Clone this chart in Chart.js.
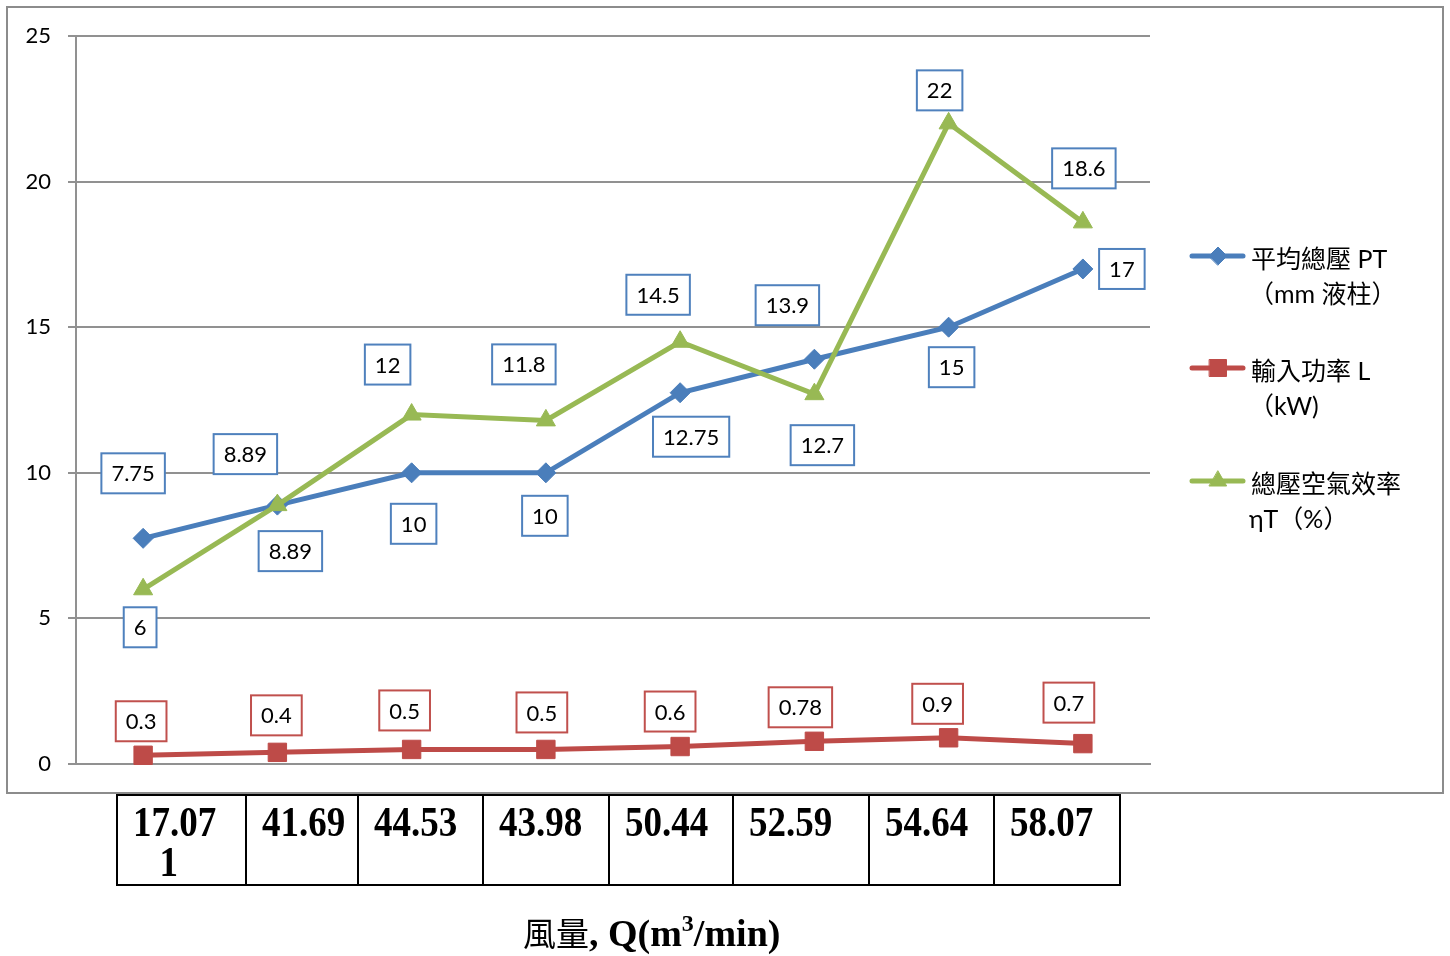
<!DOCTYPE html>
<html>
<head>
<meta charset="utf-8">
<script src="https://cdn.jsdelivr.net/npm/chart.js@4.4.1/dist/chart.umd.min.js"></script>
<style>
  html, body { margin: 0; padding: 0; background: #fff; }
</style>
</head>
<body>
<canvas id="chart" width="1450" height="956"></canvas>
<script>
// data
const categories = ['17.071', '41.69', '44.53', '43.98', '50.44', '52.59', '54.64', '58.07'];
const pressure = [7.75, 8.89, 10, 10, 12.75, 13.9, 15, 17];
const power = [0.3, 0.4, 0.5, 0.5, 0.6, 0.78, 0.9, 0.7];
const efficiency = [6, 8.89, 12, 11.8, 14.5, 12.7, 22, 18.6];
const yTicks = [0, 5, 10, 15, 20, 25];
const seriesNames = [
    ['平均總壓 PT', '（mm 液柱）'],
    ['輸入功率 L', '（kW)'],
    ['總壓空氣效率', 'ηT（%）']
];
const axisTitle = ['風量', ', Q(m', '3', '/min)'];

const BLUE = '#4A7EBB', RED = '#BE4B48', GREEN = '#98B954';
const GRID = '#919191';

// where each value box sits relative to its point
const labelOffsets = [
    [[-10, -65], [13, 46], [2, 51], [-1, 43], [11, 44], [-27, -54], [3, 40], [39, 0]],
    [[-2, -34], [-1, -37], [-7, -39], [-4, -37], [-10, -35], [-14, -34], [-11, -34], [-14, -41]],
    [[-3, 38], [-32, -51], [-24, -50], [-22, -56], [-22, -47], [8, 51], [-9, -33], [1, -54]]
];
const labelBorders = ['#4F81BD', '#C0504D', '#4F81BD'];

const frame = {
    id: 'frame',
    beforeDraw(chart) {
        const ctx = chart.ctx;
        ctx.save();
        ctx.fillStyle = '#fff';
        ctx.fillRect(0, 0, chart.width, chart.height);
        ctx.strokeStyle = '#8c8c8c';
        ctx.lineWidth = 2;
        ctx.strokeRect(7, 7, 1436, 786);
        ctx.restore();
    }
};

const valueBoxes = {
    id: 'valueBoxes',
    afterDatasetsDraw(chart) {
        const ctx = chart.ctx;
        ctx.save();
        ctx.font = '22px Lato';
        ctx.textAlign = 'center';
        ctx.textBaseline = 'middle';
        chart.data.datasets.forEach((ds, i) => {
            const meta = chart.getDatasetMeta(i);
            meta.data.forEach((pt, j) => {
                const txt = String(ds.data[j]);
                const off = labelOffsets[i][j];
                const cx = pt.x + off[0], cy = pt.y + off[1];
                const w = ctx.measureText(txt).width + 20, h = 40;
                ctx.fillStyle = '#fff';
                ctx.fillRect(cx - w / 2, cy - h / 2, w, h);
                ctx.strokeStyle = labelBorders[i];
                ctx.lineWidth = 2;
                ctx.strokeRect(cx - w / 2, cy - h / 2, w, h);
                ctx.fillStyle = '#000';
                ctx.fillText(txt, cx, cy + 1);
            });
        });
        ctx.restore();
    }
};

const sideLegend = {
    id: 'sideLegend',
    afterDraw(chart) {
        const ctx = chart.ctx;
        const lineY = [256, 368, 481];
        const styles = ['rectRot', 'rect', 'triangle'];
        const radii = [9, 12, 10];
        ctx.save();
        chart.data.datasets.forEach((ds, i) => {
            ctx.strokeStyle = ds.borderColor;
            ctx.lineWidth = 5;
            ctx.lineCap = 'round';
            ctx.beginPath();
            ctx.moveTo(1192, lineY[i]);
            ctx.lineTo(1243, lineY[i]);
            ctx.stroke();
            ctx.fillStyle = ds.borderColor;
            ctx.lineWidth = 1;
            Chart.helpers.drawPoint(ctx, { pointStyle: styles[i], radius: radii[i], borderWidth: 1 }, 1218, lineY[i]);
            ctx.fillStyle = '#000';
            ctx.font = '25px Lato, "Noto Sans CJK TC"';
            ctx.textAlign = 'left';
            ctx.textBaseline = 'middle';
            ctx.fillText(seriesNames[i][0], 1251, lineY[i] + 4);
            ctx.fillText(seriesNames[i][1], 1249, lineY[i] + 39);
        });
        ctx.restore();
    }
};

const valueTable = {
    id: 'valueTable',
    afterDraw(chart) {
        const ctx = chart.ctx;
        const widths = [129, 112, 125, 126, 124, 136, 125, 126];
        const top = 795, bottom = 885;
        ctx.save();
        ctx.strokeStyle = '#000';
        ctx.lineWidth = 2;
        let x = 117;
        ctx.strokeRect(x, top, widths.reduce((a, b) => a + b, 0), bottom - top);
        ctx.font = 'bold 37px "Liberation Serif"';
        ctx.fillStyle = '#000';
        ctx.textBaseline = 'alphabetic';
        categories.forEach((c, i) => {
            if (i > 0) {
                ctx.beginPath();
                ctx.moveTo(x, top);
                ctx.lineTo(x, bottom);
                ctx.stroke();
            }
            // wrap the text when it does not fit the cell
            const lines = [];
            let cur = '';
            for (const ch of c) {
                if (ctx.measureText(cur + ch).width > 96 && cur) { lines.push(cur); cur = ch; }
                else cur += ch;
            }
            lines.push(cur);
            const firstW = ctx.measureText(lines[0]).width;
            lines.forEach((ln, k) => {
                const lw = ctx.measureText(ln).width;
                const lx = k === 0 ? x + 16 : x + 16 + (firstW - lw) / 2 - 6;
                const by = 836 + k * 40;
                // the reference glyphs are a little taller than wide
                ctx.save();
                ctx.translate(lx, by);
                ctx.scale(1, 1.15);
                ctx.fillText(ln, 0, 0);
                ctx.restore();
            });
            x += widths[i];
        });

        // axis title
        const parts = [
            { t: axisTitle[0], f: '33px "Noto Sans CJK TC"', dy: 0 },
            { t: axisTitle[1], f: 'bold 38px "Liberation Serif"', dy: 0 },
            { t: axisTitle[2], f: 'bold 24px "Liberation Serif"', dy: -15 },
            { t: axisTitle[3], f: 'bold 38px "Liberation Serif"', dy: 0 }
        ];
        let tx = 523;
        parts.forEach(p => {
            ctx.font = p.f;
            ctx.fillText(p.t, tx, 946 + p.dy);
            tx += ctx.measureText(p.t).width;
        });
        ctx.restore();
    }
};

new Chart(document.getElementById('chart'), {
    type: 'line',
    data: {
        labels: categories,
        datasets: [
            {
                label: seriesNames[0].join(''),
                data: pressure,
                borderColor: BLUE,
                backgroundColor: BLUE,
                borderWidth: 5,
                pointStyle: 'rectRot',
                pointRadius: 10,
                pointBorderWidth: 1,
                order: 1,
                clip: false
            },
            {
                label: seriesNames[1].join(''),
                data: power,
                borderColor: RED,
                backgroundColor: RED,
                borderWidth: 5,
                pointStyle: 'rect',
                pointRadius: 13,
                pointBorderWidth: 1,
                order: 2,
                clip: false
            },
            {
                label: seriesNames[2].join(''),
                data: efficiency,
                borderColor: GREEN,
                backgroundColor: GREEN,
                borderWidth: 5,
                pointStyle: 'triangle',
                pointRadius: 11,
                pointBorderWidth: 1,
                order: 0,
                clip: false
            }
        ]
    },
    options: {
        responsive: false,
        animation: false,
        devicePixelRatio: 1,
        layout: { padding: { left: 0, top: 36, right: 300, bottom: 192 } },
        plugins: {
            legend: { display: false },
            tooltip: { enabled: false }
        },
        scales: {
            x: {
                offset: true,
                grid: { display: false },
                border: { display: true, color: GRID, width: 2 },
                ticks: { display: false },
                afterFit: s => { s.height = 0; }
            },
            y: {
                min: 0,
                max: 25,
                afterFit: s => { s.width = 76; },
                afterBuildTicks: s => { s.ticks = yTicks.map(v => ({ value: v })); },
                grid: { color: GRID, lineWidth: 2, tickLength: 8 },
                border: { color: GRID, width: 2 },
                ticks: { font: { family: 'Lato', size: 22 }, color: '#000', padding: 17 }
            }
        }
    },
    plugins: [frame, valueBoxes, sideLegend, valueTable]
});
</script>
</body>
</html>
